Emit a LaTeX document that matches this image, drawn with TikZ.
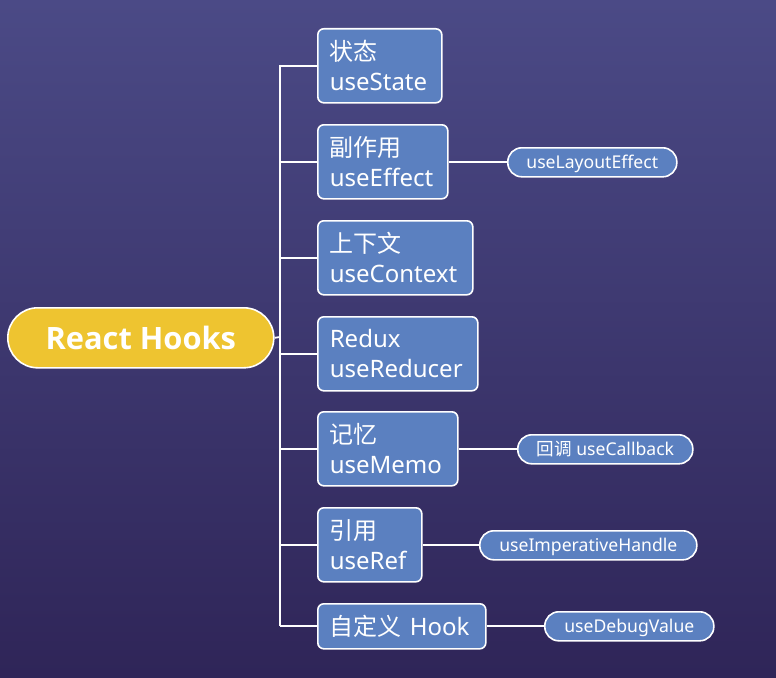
\documentclass[tikz,border=0pt]{standalone}
\usepackage{fontspec}
\setmainfont{Noto Sans}
\newfontfamily\cjk{Noto Sans CJK SC}
\newfontfamily\rootf{Open Sans}
\definecolor{bgtop}{HTML}{4B4A86}
\definecolor{bgbot}{HTML}{2F2558}
\definecolor{nodeblue}{HTML}{5B80C0}
\definecolor{rootyellow}{HTML}{EEC430}
\begin{document}
\begin{tikzpicture}[x=1pt,y=-1pt,
  mainbox/.style={draw=white, line width=1.6pt, fill=nodeblue, rounded corners=6pt,
    text=white, font=\fontsize{24}{30}\selectfont, align=left, anchor=north west,
    inner xsep=12pt, inner ysep=0pt, minimum height=74pt},
  leafbox/.style={draw=white, line width=1.6pt, fill=nodeblue, rounded corners=14pt,
    text=white, font=\fontsize{17.6}{20}\selectfont, anchor=north west,
    inner sep=0pt, minimum height=29pt, text height=12pt, text depth=0.6pt},
  rootbox/.style={draw=white, line width=1.6pt, fill=rootyellow, rounded corners=30pt,
    text=white, font=\rootf\fontsize{30.8}{34}\selectfont\bfseries, anchor=north west,
    inner sep=0pt, minimum width=266pt, minimum height=60pt},
  conn/.style={draw=white, line width=1.8pt}]
\shade[top color=bgtop, bottom color=bgbot] (0,0) rectangle (776,677);
\useasboundingbox (0,0) rectangle (776,677);

\node[rootbox] (root) at (7,307) {React Hooks};

\node[mainbox, text width=100pt] (n1) at (317,28) {{\cjk 状态}\\useState};
\node[mainbox, text width=106pt] (n2) at (317,124) {{\cjk 副作用}\\useEffect};
\node[mainbox, text width=131pt] (n3) at (317,220) {{\cjk 上下文}\\useContext};
\node[mainbox, text width=136pt] (n4) at (317,316) {Redux\\useReducer};
\node[mainbox, text width=116pt] (n5) at (317,411) {{\cjk 记忆}\\useMemo};
\node[mainbox, text width=80pt] (n6) at (317,507) {{\cjk 引用}\\useRef};
\node[mainbox, text width=144pt, minimum height=45pt] (n7) at (317,603) {{\cjk 自定义} Hook};

\node[leafbox, minimum width=169pt] (l2) at (507,147) {useLayoutEffect};
\node[leafbox, minimum width=175pt] (l5) at (517,434) {{\cjk 回调} useCallback};
\node[leafbox, minimum width=217pt] (l6) at (479,530) {useImperativeHandle};
\node[leafbox, minimum width=169pt] (l7) at (544,611) {useDebugValue};

\coordinate (t0) at (280,337);
\coordinate (ttop) at (280,65);
\coordinate (tbot) at (280,625.5);
\path[conn] (root.east) -- (t0);
\path[conn] (ttop) -- (tbot);
\foreach \n in {n1,n2,n3,n4,n5,n6,n7}{
  \path[conn] (\n.west) -- (\n.west -| t0);
}
\path[conn] (n2.east) -- (n2.east -| l2.west);
\path[conn] (n5.east) -- (n5.east -| l5.west);
\path[conn] (n6.east) -- (n6.east -| l6.west);
\path[conn] (n7.east) -- (n7.east -| l7.west);
\end{tikzpicture}
\end{document}
